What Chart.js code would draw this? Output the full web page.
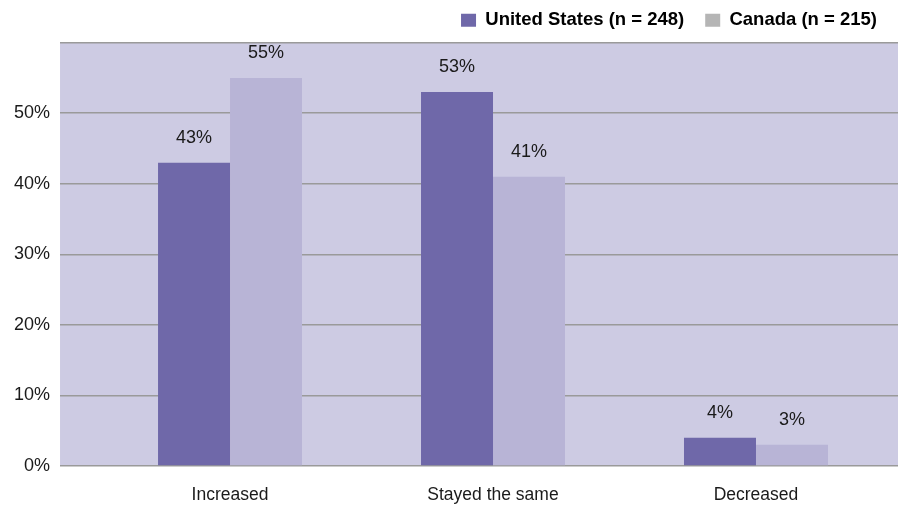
<!DOCTYPE html>
<html>
<head>
<meta charset="utf-8">
<script src="https://cdn.jsdelivr.net/npm/chart.js@4/dist/chart.umd.min.js"></script>
<style>
  html, body { margin: 0; padding: 0; background: #fff; }
  #wrap { width: 898px; height: 505px; }
</style>
</head>
<body>
<div id="wrap"><canvas id="chart"></canvas></div>
<script>
const categories = ['Increased', 'Stayed the same', 'Decreased'];
const seriesNames = ['United States (n = 248)', 'Canada (n = 215)'];
const usValues = [43, 53, 4];
const canadaValues = [55, 41, 3];
const yTicks = [0, 10, 20, 30, 40, 50, 60];

const barColors = ['#6f68a9', '#b8b4d6'];
const legendColors = ['#6f68a9', '#b5b5b5'];
const plotBg = '#cdcbe3';
const FONT = 'Liberation Sans, Arial, Helvetica, sans-serif';

// lavender panel behind the grid
const panelBackground = {
  id: 'panelBackground',
  beforeDraw(chart) {
    const { ctx, chartArea } = chart;
    ctx.save();
    ctx.fillStyle = plotBg;
    ctx.fillRect(chartArea.left, chartArea.top, chartArea.right - chartArea.left, chartArea.bottom - chartArea.top);
    ctx.restore();
  },
};

// percentage text above each bar
const valueLabels = {
  id: 'valueLabels',
  afterDatasetsDraw(chart) {
    const { ctx } = chart;
    ctx.save();
    ctx.font = '18px ' + FONT;
    ctx.fillStyle = '#1a1a1a';
    ctx.textAlign = 'center';
    ctx.textBaseline = 'alphabetic';
    chart.data.datasets.forEach((ds, di) => {
      chart.getDatasetMeta(di).data.forEach((bar, i) => {
        ctx.fillText(ds.data[i].y + '%', bar.x, bar.y - 20);
      });
    });
    ctx.restore();
  },
};

const toPoints = (vals) => vals.map((v, i) => ({ x: i, y: v }));

new Chart(document.getElementById('chart'), {
  type: 'bar',
  data: {
    datasets: [
      { label: seriesNames[0], data: toPoints(usValues), backgroundColor: barColors[0] },
      { label: seriesNames[1], data: toPoints(canadaValues), backgroundColor: barColors[1] },
    ],
  },
  options: {
    responsive: true,
    maintainAspectRatio: false,
    animation: false,
    categoryPercentage: 0.5475,
    barPercentage: 1,
    layout: { padding: { left: 4, right: 0, top: -10, bottom: -20 } },
    plugins: {
      tooltip: { enabled: false },
      legend: {
        position: 'top',
        align: 'end',
        labels: {
          boxWidth: 15,
          boxHeight: 13,
          padding: 21,
          color: '#111',
          font: { family: FONT, size: 18.5, weight: 'bold' },
          generateLabels: (chart) => chart.data.datasets.map((ds, i) => ({
            text: ds.label,
            fillStyle: legendColors[i],
            strokeStyle: legendColors[i],
            lineWidth: 0,
            datasetIndex: i,
          })),
        },
      },
      // empty spacer between the legend and the plot
      subtitle: {
        display: true,
        text: '',
        weight: 500,
        font: { size: 1 },
        padding: { top: 0, bottom: 2 },
      },
    },
    scales: {
      x: {
        type: 'linear',
        offset: false,
        min: -0.6464,
        max: 2.54,
        grid: { display: false, offset: false, drawTicks: false },
        border: { display: false },
        afterBuildTicks: (scale) => {
          scale.ticks = categories.map((_, i) => ({ value: i }));
        },
        ticks: {
          padding: 19,
          maxRotation: 0,
          color: '#1a1a1a',
          font: { family: FONT, size: 17.5 },
          callback: (v) => categories[v] ?? '',
        },
      },
      y: {
        min: 0,
        max: 60,
        afterBuildTicks: (scale) => {
          scale.ticks = yTicks.map((v) => ({ value: v }));
        },
        grid: { color: '#9a9a9a', lineWidth: 1.5, drawTicks: false },
        border: { display: false },
        ticks: {
          padding: 10,
          color: '#1a1a1a',
          font: { family: FONT, size: 18 },
          callback: (v) => (v === 60 ? '' : v + '%'),
        },
      },
    },
  },
  plugins: [panelBackground, valueLabels],
});
</script>
</body>
</html>
